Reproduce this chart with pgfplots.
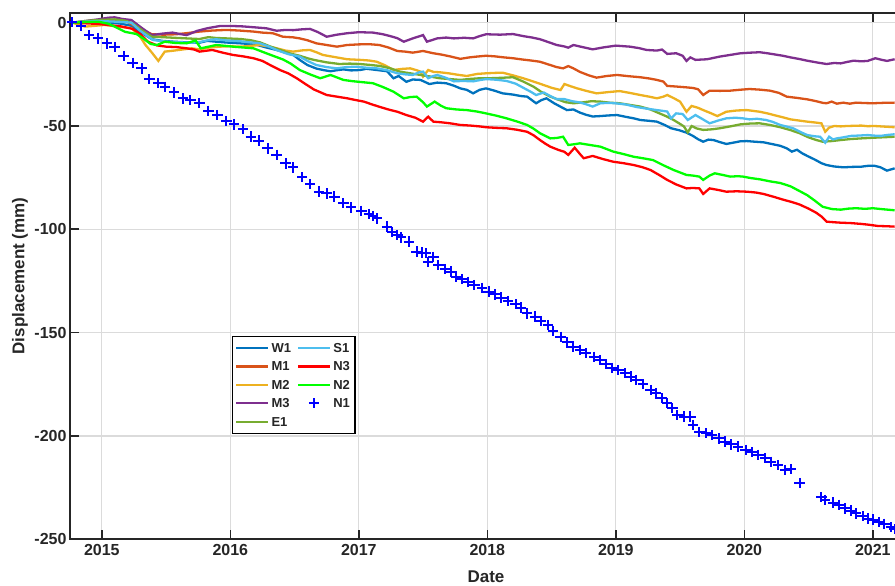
\documentclass[border=0pt]{standalone}
\usepackage{pgfplots}
\pgfplotsset{compat=1.18}
\usepackage{fontspec}
\setmainfont{Liberation Sans}

\definecolor{cW1}{HTML}{0072BD}
\definecolor{cM1}{HTML}{D95319}
\definecolor{cM2}{HTML}{EDB120}
\definecolor{cM3}{HTML}{7E2F8E}
\definecolor{cE1}{HTML}{77AC30}
\definecolor{cS1}{HTML}{4DBEEE}
\definecolor{cN3}{HTML}{FF0000}
\definecolor{cN2}{HTML}{00FF00}
\definecolor{cN1}{HTML}{0000FF}
\definecolor{frame}{HTML}{262626}

\pgfplotsset{
  sW1/.style={color=cW1, line width=2.3pt, no markers},
  sM1/.style={color=cM1, line width=2.3pt, no markers},
  sM2/.style={color=cM2, line width=2.3pt, no markers},
  sM3/.style={color=cM3, line width=2.3pt, no markers},
  sE1/.style={color=cE1, line width=2.3pt, no markers},
  sS1/.style={color=cS1, line width=2.3pt, no markers},
  sN3/.style={color=cN3, line width=2.3pt, no markers},
  sN2/.style={color=cN2, line width=2.3pt, no markers},
  sN1/.style={color=cN1, only marks, mark=+, mark size=5.2pt, mark options={line width=2pt}},
}

\begin{document}
\begin{tikzpicture}
\begin{axis}[
  name=ax,
  scale only axis,
  width=827pt, height=526.5pt,
  xmin=2014.7525, xmax=2021.1883,
  ymin=-250, ymax=4.84,
  xtick={2015,2016,2017,2018,2019,2020,2021},
  xticklabels={2015,2016,2017,2018,2019,2020,2021},
  ytick={-250,-200,-150,-100,-50,0},
  yticklabels={-250,-200,-150,-100,-50,0},
  ytick pos=left,
  xtick pos=both,
  tick align=inside,
  major tick length=9pt,
  major tick style={line width=1.6pt, color=frame},
  axis line style={line width=1.8pt, color=frame},
  grid=major,
  major grid style={line width=1.3pt, color=black!14},
  tick label style={font=\fontsize{16}{16}\selectfont\bfseries, text=frame},
  xticklabel style={yshift=-2pt},
  label style={font=\fontsize{17}{17}\selectfont\bfseries, text=frame},
  xlabel={Date},
  ylabel={Displacement (mm)},
  xlabel style={at={(axis description cs:0.503,-0.0718)}, anchor=center},
  ylabel style={at={(axis description cs:-0.0605,0.5)}, anchor=center},
  legend image code/.code={\draw[mark repeat=2,mark phase=2,line width=2.3pt,#1] plot coordinates {(0pt,0pt) (16pt,0pt) (32pt,0pt)};},
  legend columns=2,
  legend cell align=left,
  legend style={at={(axis cs:2016.01,-151.6)}, anchor=north west,
    draw=black, line width=1.3pt, fill=white, inner sep=3pt,
    font=\fontsize{13}{13}\selectfont\bfseries, text=frame,
    nodes={inner sep=2pt, text height=11pt, text depth=2pt},
    row sep=1.4pt, column sep=0pt,
    /tikz/every even column/.append style={column sep=4pt}},
]

% W1
\addplot[sW1, forget plot] table {
2014.77 0
2014.85 0.3
2014.95 0.5
2015.05 0.2
2015.15 -0.5
2015.23 -1.5
2015.30 -4.5
2015.39 -8.0
2015.47 -8.8
2015.56 -9.2
2015.66 -9.5
2015.76 -9.7
2015.82 -8.8
2015.89 -9.2
2015.97 -9.6
2016.08 -10.0
2016.15 -10.3
2016.21 -10.8
2016.28 -12.0
2016.36 -13.2
2016.43 -14.5
2016.49 -15.6
2016.54 -18.0
2016.60 -20.5
2016.67 -22.2
2016.73 -23.0
2016.78 -23.5
2016.83 -23.0
2016.88 -22.6
2016.94 -23.1
2017.01 -22.9
2017.06 -22.3
2017.14 -22.9
2017.22 -23.5
2017.27 -26.9
2017.31 -25.8
2017.37 -28.6
2017.42 -27.5
2017.48 -27.7
2017.55 -29.7
2017.61 -29.0
2017.68 -29.3
2017.74 -30.5
2017.79 -31.8
2017.84 -32.5
2017.89 -34.2
2017.94 -32.5
2017.99 -31.8
2018.05 -32.8
2018.12 -34.2
2018.20 -34.8
2018.26 -35.5
2018.31 -35.8
2018.38 -39.0
2018.42 -37.5
2018.46 -36.6
2018.52 -39.0
2018.58 -41.0
2018.62 -42.3
2018.67 -42.0
2018.72 -43.5
2018.77 -44.6
2018.82 -45.4
2018.88 -45.2
2018.94 -44.9
2019.01 -44.7
2019.08 -45.6
2019.14 -46.3
2019.19 -47.1
2019.26 -47.5
2019.32 -47.9
2019.38 -49.5
2019.43 -51.1
2019.49 -52.0
2019.55 -53.2
2019.60 -54.8
2019.64 -56.4
2019.68 -57.6
2019.72 -56.6
2019.76 -56.8
2019.81 -57.8
2019.86 -58.7
2019.92 -58.0
2019.97 -57.4
2020.02 -57.3
2020.08 -57.6
2020.15 -57.9
2020.22 -58.8
2020.28 -59.6
2020.33 -60.8
2020.37 -62.4
2020.41 -61.5
2020.45 -63.2
2020.49 -64.5
2020.55 -66.3
2020.60 -68.0
2020.64 -68.9
2020.70 -69.6
2020.77 -70.0
2020.84 -69.8
2020.91 -69.7
2020.96 -69.3
2021.01 -69.2
2021.06 -70.0
2021.11 -71.6
2021.17 -70.5
};

% M1
\addplot[sM1, forget plot] table {
2014.77 0
2014.87 0.5
2014.97 0.8
2015.10 0.8
2015.20 0.3
2015.28 -2.5
2015.39 -5.6
2015.48 -5.8
2015.58 -5.6
2015.67 -5.0
2015.76 -4.3
2015.86 -3.8
2015.97 -3.5
2016.07 -3.8
2016.18 -4.3
2016.25 -4.8
2016.33 -5.1
2016.41 -6.8
2016.49 -7.1
2016.54 -7.6
2016.60 -8.5
2016.67 -10.0
2016.75 -10.8
2016.83 -11.6
2016.91 -10.8
2017.00 -10.5
2017.08 -10.4
2017.16 -10.8
2017.23 -12.0
2017.30 -13.7
2017.36 -14.0
2017.42 -14.5
2017.50 -13.7
2017.58 -14.8
2017.64 -15.4
2017.71 -16.3
2017.79 -17.5
2017.86 -16.8
2017.92 -16.4
2017.99 -16.0
2018.06 -16.3
2018.13 -16.8
2018.20 -17.2
2018.27 -17.8
2018.34 -18.3
2018.41 -18.9
2018.48 -20.3
2018.54 -21.5
2018.59 -22.1
2018.63 -21.0
2018.67 -22.1
2018.72 -23.8
2018.79 -25.5
2018.85 -26.6
2018.93 -25.8
2019.01 -25.3
2019.10 -25.9
2019.19 -26.4
2019.26 -27.0
2019.32 -27.7
2019.37 -28.5
2019.40 -30.6
2019.47 -30.9
2019.55 -31.3
2019.60 -31.6
2019.64 -32.2
2019.68 -35.0
2019.73 -32.9
2019.81 -33.0
2019.89 -32.9
2019.96 -32.5
2020.04 -32.1
2020.12 -32.4
2020.20 -32.9
2020.27 -34.0
2020.33 -35.8
2020.41 -36.4
2020.49 -37.1
2020.56 -38.0
2020.61 -38.8
2020.64 -39.0
2020.68 -38.2
2020.72 -39.2
2020.77 -38.7
2020.82 -39.2
2020.87 -38.7
2020.94 -38.9
2021.00 -39.0
2021.08 -38.8
2021.17 -38.7
};

% M2
\addplot[sM2, forget plot] table {
2014.77 0
2014.87 -1.9
2014.95 -1.5
2015.02 -1.1
2015.12 -1.8
2015.23 -2.7
2015.29 -6.0
2015.34 -10.8
2015.39 -14.5
2015.44 -18.5
2015.49 -14.0
2015.55 -13.6
2015.60 -13.2
2015.70 -12.4
2015.76 -12.9
2015.84 -12.0
2015.92 -11.6
2016.00 -11.4
2016.08 -11.6
2016.16 -11.2
2016.23 -10.8
2016.30 -11.5
2016.36 -12.4
2016.43 -13.5
2016.49 -14.0
2016.56 -13.4
2016.62 -13.2
2016.67 -14.3
2016.72 -15.6
2016.80 -16.5
2016.91 -17.7
2017.01 -18.0
2017.08 -18.3
2017.14 -18.9
2017.20 -20.5
2017.27 -22.9
2017.33 -22.4
2017.40 -22.1
2017.45 -23.0
2017.48 -23.7
2017.50 -26.1
2017.54 -22.9
2017.58 -23.8
2017.63 -24.0
2017.70 -24.5
2017.77 -25.2
2017.84 -25.8
2017.92 -24.8
2017.99 -24.5
2018.06 -24.3
2018.12 -24.2
2018.20 -25.5
2018.28 -26.9
2018.36 -28.5
2018.44 -30.2
2018.50 -31.5
2018.57 -32.6
2018.60 -29.7
2018.65 -30.8
2018.70 -31.8
2018.77 -33.0
2018.85 -34.2
2018.94 -33.6
2019.03 -33.1
2019.11 -34.0
2019.19 -35.0
2019.26 -35.8
2019.32 -36.6
2019.37 -35.8
2019.40 -35.0
2019.45 -36.5
2019.50 -38.2
2019.55 -43.1
2019.59 -40.3
2019.64 -41.2
2019.68 -42.3
2019.74 -43.8
2019.79 -45.2
2019.86 -43.1
2019.94 -42.5
2020.02 -42.3
2020.07 -42.7
2020.12 -43.1
2020.18 -43.9
2020.23 -44.7
2020.30 -45.8
2020.36 -46.8
2020.43 -47.4
2020.49 -47.9
2020.55 -48.3
2020.60 -48.7
2020.63 -52.8
2020.66 -50.8
2020.70 -50.0
2020.75 -50.2
2020.80 -50.0
2020.86 -49.9
2020.91 -49.8
2020.96 -50.1
2021.01 -50.0
2021.09 -50.3
2021.17 -50.6
};

% M3
\addplot[sM3, forget plot] table {
2014.77 0
2014.87 0.8
2014.97 1.6
2015.05 2.4
2015.10 2.6
2015.16 1.8
2015.23 1.3
2015.31 -2.5
2015.39 -6.0
2015.47 -5.3
2015.55 -4.8
2015.61 -5.5
2015.66 -6.0
2015.74 -4.0
2015.82 -2.7
2015.92 -1.6
2016.02 -1.6
2016.10 -1.8
2016.18 -2.2
2016.28 -2.7
2016.36 -3.9
2016.43 -3.5
2016.49 -3.6
2016.56 -3.2
2016.62 -3.0
2016.68 -4.5
2016.75 -6.8
2016.83 -5.8
2016.91 -5.1
2017.00 -4.6
2017.11 -4.8
2017.18 -5.5
2017.24 -6.4
2017.30 -7.5
2017.35 -9.2
2017.42 -7.6
2017.50 -6.0
2017.53 -9.2
2017.61 -7.6
2017.68 -7.2
2017.74 -7.6
2017.82 -7.3
2017.89 -7.6
2017.94 -6.5
2017.99 -5.6
2018.10 -5.8
2018.20 -5.5
2018.28 -6.5
2018.35 -7.2
2018.41 -8.0
2018.48 -9.5
2018.54 -10.8
2018.60 -11.5
2018.63 -12.1
2018.67 -10.8
2018.74 -11.8
2018.82 -12.9
2018.90 -12.0
2019.00 -11.1
2019.11 -11.6
2019.18 -12.3
2019.24 -13.2
2019.32 -13.5
2019.36 -13.0
2019.40 -15.1
2019.47 -14.8
2019.52 -16.0
2019.55 -18.5
2019.58 -16.8
2019.62 -18.0
2019.71 -17.7
2019.81 -16.4
2019.89 -15.6
2019.97 -14.8
2020.05 -14.5
2020.12 -14.3
2020.18 -14.8
2020.23 -15.3
2020.30 -16.0
2020.36 -16.8
2020.43 -17.6
2020.49 -18.4
2020.57 -19.3
2020.64 -20.0
2020.70 -19.5
2020.75 -19.7
2020.80 -19.0
2020.85 -18.4
2020.91 -18.7
2020.96 -18.5
2021.02 -17.2
2021.07 -18.0
2021.11 -18.5
2021.17 -17.7
};

% E1
\addplot[sE1, forget plot] table {
2014.77 0
2014.87 0.8
2014.97 1.3
2015.10 1.6
2015.18 1.0
2015.24 -0.3
2015.32 -4.0
2015.39 -6.8
2015.47 -7.0
2015.56 -7.3
2015.66 -7.6
2015.76 -7.9
2015.83 -7.0
2015.89 -7.4
2015.97 -7.6
2016.08 -7.9
2016.16 -8.5
2016.23 -9.5
2016.31 -11.5
2016.39 -13.2
2016.47 -15.0
2016.54 -16.0
2016.60 -17.2
2016.65 -18.0
2016.75 -19.2
2016.85 -20.0
2016.93 -19.8
2017.01 -20.0
2017.08 -20.4
2017.16 -20.9
2017.24 -22.0
2017.32 -23.7
2017.40 -24.5
2017.48 -25.3
2017.55 -26.0
2017.63 -26.9
2017.71 -27.3
2017.79 -27.7
2017.87 -27.2
2017.94 -26.9
2018.01 -26.9
2018.10 -26.7
2018.20 -26.4
2018.28 -28.5
2018.36 -31.0
2018.42 -33.5
2018.49 -35.8
2018.55 -37.2
2018.61 -38.5
2018.67 -39.0
2018.74 -38.6
2018.81 -38.0
2018.88 -38.2
2018.95 -38.7
2019.03 -39.0
2019.11 -39.8
2019.19 -40.6
2019.27 -42.0
2019.34 -43.9
2019.40 -45.5
2019.45 -47.1
2019.50 -49.0
2019.53 -50.2
2019.56 -53.1
2019.59 -50.0
2019.63 -51.2
2019.68 -51.9
2019.75 -51.6
2019.81 -51.1
2019.89 -50.2
2019.97 -49.2
2020.05 -48.8
2020.12 -48.7
2020.20 -49.5
2020.28 -50.6
2020.36 -52.0
2020.43 -53.5
2020.50 -55.5
2020.56 -56.8
2020.61 -57.6
2020.68 -57.3
2020.75 -56.8
2020.83 -56.3
2020.91 -56.0
2021.00 -55.7
2021.07 -55.5
2021.17 -55.2
};

% S1
\addplot[sS1, forget plot] table {
2014.77 0
2014.87 0.5
2014.97 0.8
2015.07 0.6
2015.17 0.3
2015.23 0.0
2015.30 -4.0
2015.40 -8.4
2015.48 -9.0
2015.56 -9.4
2015.66 -9.6
2015.76 -9.4
2015.83 -8.4
2015.89 -8.0
2015.97 -8.6
2016.08 -9.0
2016.15 -9.5
2016.23 -10.0
2016.30 -11.5
2016.36 -13.2
2016.45 -15.2
2016.54 -16.4
2016.60 -18.5
2016.67 -20.5
2016.75 -21.5
2016.83 -22.1
2016.90 -21.5
2016.98 -21.3
2017.06 -21.8
2017.14 -22.1
2017.22 -23.0
2017.30 -24.5
2017.36 -25.0
2017.42 -25.3
2017.47 -24.0
2017.50 -23.7
2017.54 -26.9
2017.58 -25.8
2017.61 -25.3
2017.67 -26.5
2017.74 -28.4
2017.81 -28.2
2017.89 -28.4
2017.94 -27.8
2017.99 -27.3
2018.07 -27.6
2018.15 -28.2
2018.22 -29.5
2018.28 -31.5
2018.34 -33.5
2018.38 -35.0
2018.44 -33.8
2018.49 -35.5
2018.54 -37.0
2018.60 -37.0
2018.66 -38.0
2018.72 -38.6
2018.77 -39.5
2018.82 -40.6
2018.88 -39.0
2018.95 -38.8
2019.01 -39.1
2019.08 -39.6
2019.16 -40.8
2019.24 -41.6
2019.32 -42.3
2019.40 -43.0
2019.43 -46.3
2019.47 -43.9
2019.52 -44.2
2019.56 -47.1
2019.62 -44.7
2019.67 -46.5
2019.73 -48.7
2019.80 -47.3
2019.86 -46.3
2019.93 -46.0
2019.99 -46.3
2020.04 -46.8
2020.10 -46.5
2020.17 -47.1
2020.22 -48.0
2020.28 -49.5
2020.33 -50.3
2020.38 -51.1
2020.44 -53.0
2020.49 -54.4
2020.55 -55.0
2020.59 -55.2
2020.63 -58.1
2020.66 -55.2
2020.69 -56.5
2020.72 -56.0
2020.77 -55.5
2020.83 -54.8
2020.90 -54.6
2020.96 -54.4
2021.02 -54.7
2021.06 -54.8
2021.12 -54.3
2021.17 -54.0
};

% N3
\addplot[sN3, forget plot] table {
2014.77 0
2014.87 -0.3
2014.97 -0.6
2015.05 -1.1
2015.15 -1.8
2015.24 -3.0
2015.30 -5.5
2015.36 -9.2
2015.43 -11.0
2015.50 -11.6
2015.58 -11.8
2015.66 -12.4
2015.72 -13.0
2015.76 -14.0
2015.86 -13.2
2015.94 -14.5
2016.02 -15.6
2016.10 -16.3
2016.18 -17.2
2016.25 -18.5
2016.31 -20.5
2016.39 -23.0
2016.45 -24.5
2016.52 -27.0
2016.58 -29.5
2016.65 -32.3
2016.75 -35.0
2016.83 -35.8
2016.91 -36.6
2016.98 -37.5
2017.04 -38.2
2017.10 -39.5
2017.16 -40.7
2017.23 -42.0
2017.30 -43.1
2017.37 -44.7
2017.44 -46.0
2017.50 -47.9
2017.54 -45.5
2017.58 -47.9
2017.64 -48.2
2017.71 -48.7
2017.79 -49.5
2017.87 -49.8
2017.94 -50.2
2017.99 -50.6
2018.07 -50.9
2018.15 -51.1
2018.23 -51.8
2018.31 -52.8
2018.36 -54.5
2018.41 -56.8
2018.45 -58.5
2018.49 -60.0
2018.55 -61.5
2018.60 -62.5
2018.63 -64.0
2018.68 -60.5
2018.72 -63.5
2018.75 -65.6
2018.82 -64.5
2018.90 -66.0
2018.98 -67.3
2019.06 -68.0
2019.14 -68.9
2019.21 -70.0
2019.27 -71.3
2019.34 -73.8
2019.40 -76.1
2019.47 -78.3
2019.55 -80.2
2019.60 -80.0
2019.65 -80.2
2019.68 -82.9
2019.73 -80.2
2019.80 -81.0
2019.86 -81.8
2019.94 -81.6
2020.02 -81.8
2020.09 -82.2
2020.15 -82.9
2020.23 -84.3
2020.31 -85.8
2020.37 -86.8
2020.43 -88.0
2020.50 -90.0
2020.56 -92.0
2020.60 -93.8
2020.64 -96.3
2020.70 -96.6
2020.75 -96.8
2020.83 -97.0
2020.91 -97.4
2020.97 -97.8
2021.04 -98.4
2021.10 -98.5
2021.17 -98.7
};

% N2
\addplot[sN2, forget plot] table {
2014.77 0
2014.87 0.3
2014.97 0.5
2015.05 -0.5
2015.10 -1.9
2015.18 -4.4
2015.27 -5.5
2015.32 -7.5
2015.38 -10.3
2015.43 -10.8
2015.49 -9.2
2015.57 -9.8
2015.66 -10.0
2015.73 -8.6
2015.77 -12.4
2015.84 -11.5
2015.89 -10.8
2015.96 -11.2
2016.02 -11.6
2016.10 -12.0
2016.18 -12.4
2016.28 -14.8
2016.34 -16.2
2016.41 -17.8
2016.47 -19.8
2016.54 -22.9
2016.62 -25.0
2016.70 -26.9
2016.78 -25.3
2016.83 -26.5
2016.88 -27.7
2016.95 -28.3
2017.03 -28.8
2017.11 -29.3
2017.19 -31.2
2017.27 -33.4
2017.35 -36.6
2017.40 -36.0
2017.45 -35.8
2017.50 -38.5
2017.53 -40.6
2017.59 -38.2
2017.64 -40.2
2017.68 -41.4
2017.76 -42.0
2017.84 -42.3
2017.92 -43.0
2017.99 -43.9
2018.07 -45.0
2018.15 -46.3
2018.23 -47.8
2018.31 -49.5
2018.36 -51.3
2018.41 -53.5
2018.49 -56.0
2018.54 -55.8
2018.59 -55.2
2018.63 -59.2
2018.68 -58.8
2018.72 -58.4
2018.80 -59.2
2018.88 -60.0
2018.93 -61.2
2018.98 -62.4
2019.06 -63.6
2019.14 -64.9
2019.21 -65.6
2019.29 -66.5
2019.37 -69.0
2019.45 -71.3
2019.50 -72.5
2019.55 -73.7
2019.60 -74.0
2019.65 -74.5
2019.68 -76.1
2019.73 -74.0
2019.77 -72.9
2019.84 -73.8
2019.89 -74.5
2019.95 -74.3
2019.99 -74.5
2020.05 -75.2
2020.12 -75.8
2020.20 -76.8
2020.28 -77.6
2020.36 -79.2
2020.43 -81.5
2020.49 -83.5
2020.55 -86.2
2020.61 -89.1
2020.68 -90.2
2020.75 -90.5
2020.81 -90.0
2020.87 -89.8
2020.94 -90.1
2021.00 -89.8
2021.08 -90.3
2021.17 -90.8
};

% N1
\addplot[sN1, forget plot] table {
2014.77 0.2
2014.84 -1.6
2014.90 -6.0
2014.97 -7.6
2015.04 -10.0
2015.10 -11.9
2015.17 -16.1
2015.24 -19.4
2015.31 -22.1
2015.37 -27.3
2015.44 -29.3
2015.49 -31.0
2015.56 -33.7
2015.63 -36.6
2015.69 -37.4
2015.76 -39.0
2015.83 -42.7
2015.90 -44.7
2015.97 -47.6
2016.03 -49.2
2016.10 -51.5
2016.16 -55.1
2016.22 -57.1
2016.29 -60.8
2016.36 -64.0
2016.43 -68.1
2016.49 -70.0
2016.56 -74.8
2016.62 -78.1
2016.69 -81.8
2016.75 -82.6
2016.81 -84.2
2016.88 -87.4
2016.94 -89.4
2017.02 -91.1
2017.08 -92.6
2017.11 -93.6
2017.14 -94.7
2017.22 -98.7
2017.26 -101.2
2017.30 -102.8
2017.33 -103.9
2017.39 -106.0
2017.45 -110.8
2017.49 -111.3
2017.52 -111.6
2017.54 -115.7
2017.58 -113.3
2017.62 -117.3
2017.67 -119.2
2017.72 -120.5
2017.76 -122.9
2017.80 -124.1
2017.85 -125.4
2017.90 -127.0
2017.96 -128.3
2018.01 -130.2
2018.06 -131.5
2018.11 -133.1
2018.16 -134.7
2018.22 -136.3
2018.26 -137.9
2018.31 -140.7
2018.37 -142.3
2018.42 -144.4
2018.47 -146.3
2018.51 -149.2
2018.57 -152.0
2018.62 -154.7
2018.67 -156.8
2018.72 -158.4
2018.77 -160.0
2018.83 -161.7
2018.88 -163.3
2018.92 -165.3
2018.97 -167.0
2019.02 -168.1
2019.07 -169.7
2019.12 -171.3
2019.16 -172.9
2019.21 -175.0
2019.27 -177.8
2019.31 -179.4
2019.36 -181.8
2019.40 -184.2
2019.44 -186.6
2019.48 -189.9
2019.53 -190.7
2019.58 -190.7
2019.60 -194.7
2019.65 -198.0
2019.70 -198.7
2019.75 -199.6
2019.80 -201.2
2019.85 -202.8
2019.90 -204.1
2019.95 -205.2
2020.01 -206.8
2020.06 -207.9
2020.11 -209.2
2020.16 -210.8
2020.21 -212.5
2020.26 -214.1
2020.32 -216.5
2020.36 -216.0
2020.43 -222.8
2020.60 -229.6
2020.63 -231.0
2020.69 -232.3
2020.74 -233.4
2020.78 -235.1
2020.83 -236.2
2020.87 -237.5
2020.92 -238.9
2020.96 -240.0
2021.00 -240.5
2021.05 -241.7
2021.09 -242.5
2021.14 -244.1
2021.17 -245.0
};

% legend, filled row by row in two columns
\addlegendimage{sW1}\addlegendentry{W1}
\addlegendimage{sS1}\addlegendentry{S1}
\addlegendimage{sM1}\addlegendentry{M1}
\addlegendimage{sN3}\addlegendentry{N3}
\addlegendimage{sM2}\addlegendentry{M2}
\addlegendimage{sN2}\addlegendentry{N2}
\addlegendimage{sM3}\addlegendentry{M3}
\addlegendimage{sN1}\addlegendentry{N1}
\addlegendimage{sE1}\addlegendentry{E1}
\end{axis}
\pgfresetboundingbox
\path[use as bounding box] ([xshift=-70pt,yshift=-46.8pt]ax.south west) rectangle ([xshift=825pt,yshift=12.7pt]ax.north west);
\end{tikzpicture}
\end{document}
